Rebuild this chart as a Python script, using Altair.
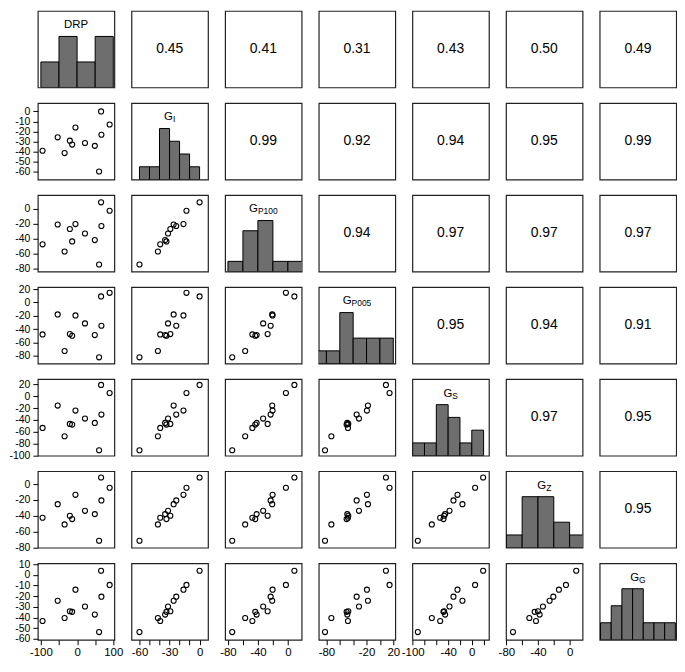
import altair as alt
import pandas as pd

FONT = "Liberation Sans"

var_names = ["DRP", "GI", "GP100", "GP005", "GS", "GZ", "GG"]
label_main = ["DRP", "G", "G", "G", "G", "G", "G"]
label_sub = ["", "I", "P100", "P005", "S", "Z", "G"]

DRP = [-95.4, -53.6, -34.5, -20.0, -13.6, -4.5, 21.8, 49.0, 60.8, 66.3, 67.2, 89.9]
GI = [-39.3, -25.9, -41.6, -29.2, -33.1, -16.1, -31.5, -34.4, -60.0, 0.0, -23.3, -13.1]
GP100 = [-47.4, -20.9, -57.0, -27.0, -43.5, -20.4, -33.0, -41.7, -74.3, 8.7, -23.0, -2.6]
GP005 = [-47.8, -17.9, -72.6, -47.3, -49.8, -19.4, -31.3, -48.8, -82.1, 9.0, -34.8, 14.4]
GS = [-53.5, -15.8, -67.6, -46.8, -47.9, -24.2, -37.7, -45.1, -91.3, 19.2, -31.0, 5.6]
GZ = [-42.5, -25.3, -50.9, -40.0, -44.2, -13.5, -33.7, -37.9, -71.6, 8.4, -20.6, -4.6]
GG = [-43.2, -24.3, -40.4, -34.1, -34.7, -13.9, -29.7, -37.2, -53.6, 3.8, -20.5, -9.5]
series = [DRP, GI, GP100, GP005, GS, GZ, GG]

# correlation labels of the upper panels, row by row
cor_labels = [
    ["0.45", "0.41", "0.31", "0.43", "0.50", "0.49"],
    ["0.99", "0.92", "0.94", "0.95", "0.99"],
    ["0.94", "0.97", "0.97", "0.97"],
    ["0.95", "0.94", "0.91"],
    ["0.97", "0.95"],
    ["0.95"],
]

# axis domains of each variable
domains = [[-108.5, 103], [-68, 8.4], [-83.8, 18.4], [-91.5, 23],
           [-100.5, 29], [-80.4, 16.4], [-60.8, 10.8]]

# histogram breaks
breaks = [
    [-100, -50, 0, 50, 100],
    [-60, -50, -40, -30, -20, -10, 0],
    [-80, -60, -40, -20, 0, 20],
    [-100, -80, -60, -40, -20, 0, 20],
    [-100, -80, -60, -40, -20, 0, 20],
    [-80, -60, -40, -20, 0, 20],
    [-60, -50, -40, -30, -20, -10, 0, 10],
]

# left-axis ticks (rows 2..7) and bottom-axis ticks/labels (cols 1..6)
y_ticks = [None,
           [-60, -50, -40, -30, -20, -10, 0],
           [-80, -60, -40, -20, 0],
           [-80, -60, -40, -20, 0, 20],
           [-100, -80, -60, -40, -20, 0, 20],
           [-80, -60, -40, -20, 0],
           [-60, -50, -40, -30, -20, -10, 0, 10]]
x_ticks = [[-100, -50, 0, 50, 100],
           [-60, -50, -40, -30, -20, -10, 0],
           [-80, -60, -40, -20, 0],
           [-80, -60, -40, -20, 0, 20],
           [-100, -80, -60, -40, -20, 0, 20],
           [-80, -60, -40, -20, 0]]
x_labels = [[-100, 0, 100], [-60, -30, 0], [-80, -40, 0], [-80, -20, 20],
            [-100, -40, 0], [-80, -40, 0]]

data = pd.DataFrame({v: s for v, s in zip(var_names, series)})

W = 77
H = 77
BAR_FILL = "#6e6e6e"

# Arial-like advance widths (em) for centering labels
ADV = {"G": 0.778, "I": 0.278, "P": 0.667, "S": 0.667, "Z": 0.611, "D": 0.722, "R": 0.722}
def text_w(s, size):
    return sum(ADV.get(c, 0.556) for c in s) * size

MAIN_SIZE = 11.5
SUB_SIZE = 8.5


def hist_df(vals, brk):
    counts = [0] * (len(brk) - 1)
    for v in vals:
        for k in range(len(brk) - 1):
            lo, hi = brk[k], brk[k + 1]
            if (lo < v <= hi) or (k == 0 and v == lo):
                counts[k] += 1
                break
    m = max(counts)
    return pd.DataFrame({"lo": brk[:-1], "hi": brk[1:], "h": [c / m for c in counts]})


def y_axis(i):
    return alt.Axis(values=y_ticks[i], labelExpr="'' + datum.value", orient="left",
                    tickSize=5, tickColor="black", tickWidth=1, labelPadding=3,
                    labelFontSize=10.5, labelFont=FONT, labelColor="black",
                    domain=False, grid=False, title=None, labelOverlap=False,
                    labelFlush=False)


def x_axis(j):
    keep = ",".join(str(v) for v in x_labels[j])
    return alt.Axis(values=x_ticks[j],
                    labelExpr="indexof([" + keep + "], datum.value) >= 0 ? '' + datum.value : ''",
                    orient="bottom", tickSize=5, tickColor="black", tickWidth=1,
                    labelPadding=2, labelFontSize=11.5, labelFont=FONT,
                    labelColor="black", domain=False, grid=False, title=None,
                    labelOverlap=False, labelFlush=False)


def diag_panel(i):
    hdf = hist_df(series[i], breaks[i])
    bars = alt.Chart(hdf).mark_rect(clip=True, fill=BAR_FILL, stroke="black",
                                    strokeWidth=1).encode(
        x=alt.X("lo:Q", scale=alt.Scale(domain=domains[i], nice=False, zero=False), axis=None),
        x2="hi:Q",
        y=alt.Y("h:Q", scale=alt.Scale(domain=[0, 1.5], nice=False, zero=False), axis=None),
        y2=alt.datum(0),
    )
    layers = [bars]
    if label_sub[i] == "":
        layers.append(alt.Chart(pd.DataFrame({"t": [label_main[i]]})).mark_text(
            font=FONT, fontSize=MAIN_SIZE, color="black", align="center",
            baseline="alphabetic").encode(x=alt.value(W / 2), y=alt.value(17.5), text="t:N"))
    else:
        wm = text_w(label_main[i], MAIN_SIZE)
        ws = text_w(label_sub[i], SUB_SIZE)
        x0 = W / 2 - (wm + ws) / 2
        layers.append(alt.Chart(pd.DataFrame({"t": [label_main[i]]})).mark_text(
            font=FONT, fontSize=MAIN_SIZE, color="black", align="left",
            baseline="alphabetic").encode(x=alt.value(x0), y=alt.value(17.5), text="t:N"))
        layers.append(alt.Chart(pd.DataFrame({"t": [label_sub[i]]})).mark_text(
            font=FONT, fontSize=SUB_SIZE, color="black", align="left",
            baseline="alphabetic").encode(x=alt.value(x0 + wm), y=alt.value(19.5), text="t:N"))
    return alt.layer(*layers).properties(width=W, height=H)


def upper_panel(i, j):
    lab = cor_labels[i][j - i - 1]
    return alt.Chart(pd.DataFrame({"t": [lab]})).mark_text(
        font=FONT, fontSize=14, color="black", align="center", baseline="middle"
    ).encode(x=alt.value(W / 2), y=alt.value(H / 2), text="t:N").properties(width=W, height=H)


def scatter_panel(i, j):
    xa = x_axis(j) if i == len(var_names) - 1 else None
    ya = y_axis(i) if j == 0 else None
    return alt.Chart(data).mark_point(shape="circle", filled=False, color="black",
                                      size=26, strokeWidth=1.1, opacity=1).encode(
        x=alt.X(var_names[j], type="quantitative",
                scale=alt.Scale(domain=domains[j], nice=False, zero=False), axis=xa),
        y=alt.Y(var_names[i], type="quantitative",
                scale=alt.Scale(domain=domains[i], nice=False, zero=False), axis=ya),
    ).properties(width=W, height=H)


panels = []
n = len(var_names)
for i in range(n):
    for j in range(n):
        if i == j:
            panels.append(diag_panel(i))
        elif j > i:
            panels.append(upper_panel(i, j))
        else:
            panels.append(scatter_panel(i, j))

chart = alt.concat(*panels, columns=7, spacing={"row": 15.6, "column": 17.2},
                   bounds="flush").properties(
    padding=0, background="white"
).configure_view(stroke="#222222", strokeWidth=1.2)

chart.save("out.html", embed_options={"renderer": "svg", "actions": False})
